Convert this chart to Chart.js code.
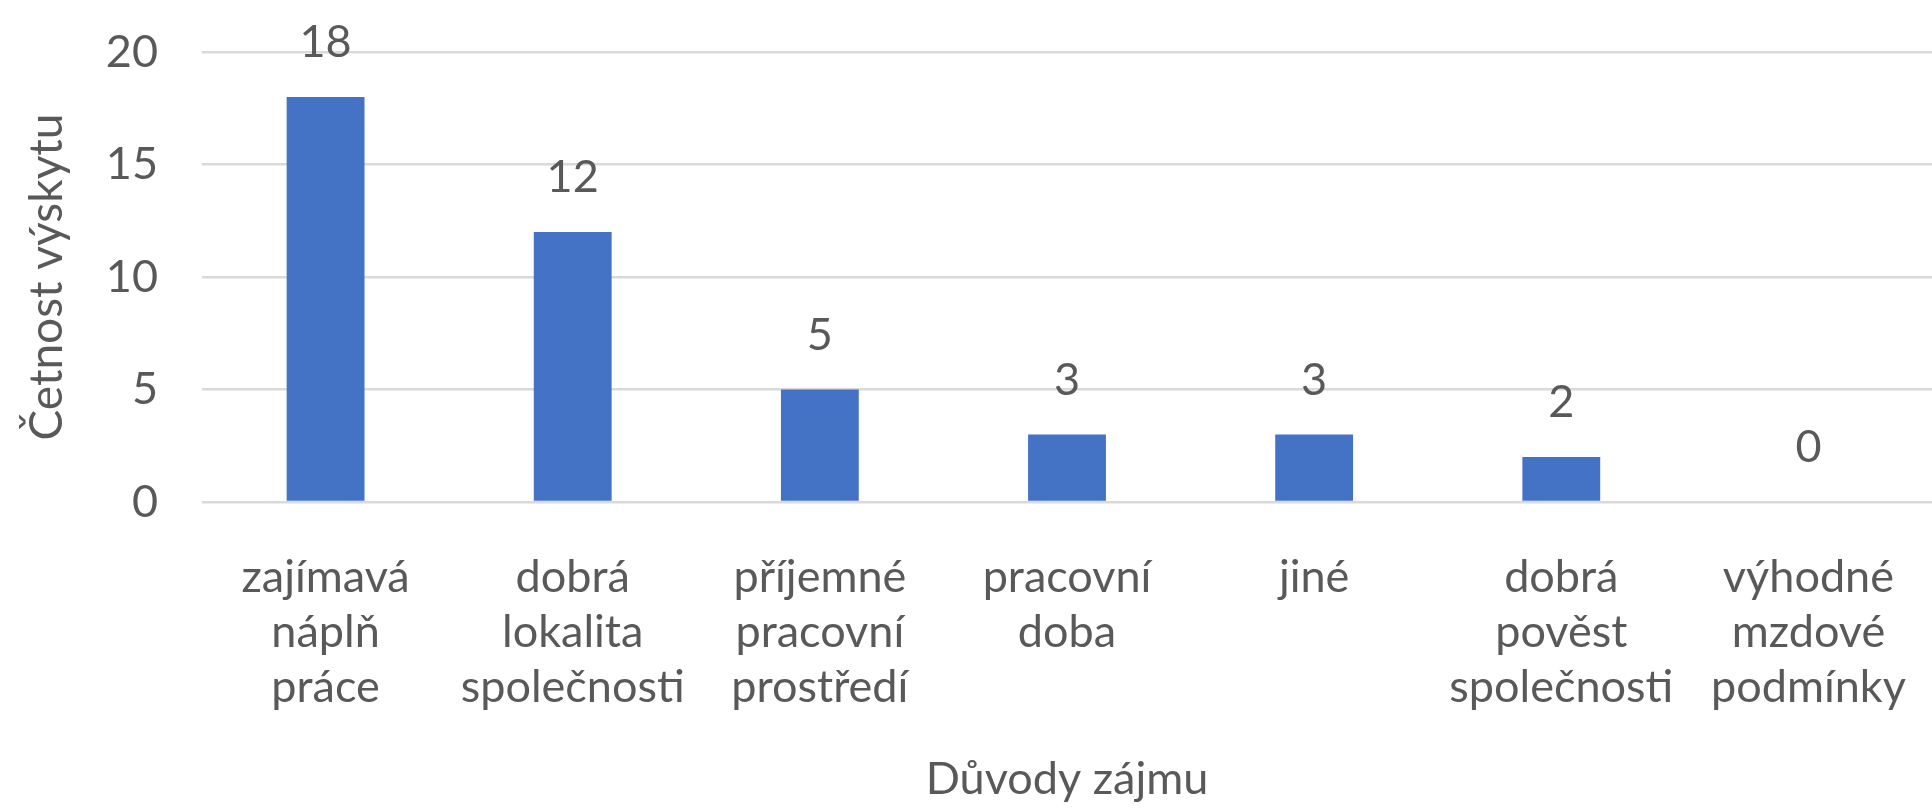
<!DOCTYPE html>
<html>
<head>
<meta charset="utf-8">
<script src="https://cdn.jsdelivr.net/npm/chart.js@4.4.0/dist/chart.umd.min.js"></script>
<style>
    html, body { margin: 0; padding: 0; background: #fff; }
    #wrap { width: 1932px; height: 808px; }
</style>
</head>
<body>
<div id="wrap"><canvas id="reasonsChart"></canvas></div>
<script>
// data
var categories = [
    ["zajímavá", "náplň", "práce"],
    ["dobrá", "lokalita", "společnosti"],
    ["příjemné", "pracovní", "prostředí"],
    ["pracovní", "doba"],
    ["jiné"],
    ["dobrá", "pověst", "společnosti"],
    ["výhodné", "mzdové", "podmínky"]
];
var counts = [18, 12, 5, 3, 3, 2, 0];
var yTicks = [0, 5, 10, 15, 20];
var yTitle = "Četnost výskytu";
var xTitle = "Důvody zájmu";

var textColor = "#595959";
var fontFamily = "Lato, 'Open Sans', sans-serif";

// value labels above bars
var valueLabels = {
    id: "valueLabels",
    afterDatasetsDraw: function (chart) {
        var ctx = chart.ctx;
        var meta = chart.getDatasetMeta(0);
        ctx.save();
        ctx.fillStyle = textColor;
        ctx.font = "45px " + fontFamily;
        ctx.textAlign = "center";
        ctx.textBaseline = "alphabetic";
        meta.data.forEach(function (bar, i) {
            ctx.fillText(String(counts[i]), bar.x, bar.y - 40);
        });
        ctx.restore();
    }
};

const ctx = document.getElementById("reasonsChart").getContext("2d");
var reasonsChart = new Chart(ctx, {
    type: "bar",
    data: {
        labels: categories,
        datasets: [
            {
                label: yTitle,
                data: counts,
                backgroundColor: "#4472C4",
                borderWidth: 0,
                categoryPercentage: 1,
                barPercentage: 0.315,
            },
        ],
    },
    options: {
        responsive: true,
        maintainAspectRatio: false,
        animation: false,
        layout: {
            padding: { top: 52, right: 0, bottom: 0, left: 0 },
        },
        plugins: {
            legend: { display: false },
            tooltip: { enabled: false },
        },
        scales: {
            x: {
                grid: { display: false },
                border: { display: false },
                ticks: {
                    color: textColor,
                    font: { family: fontFamily, size: 45, lineHeight: 1.22 },
                    padding: 40,
                    maxRotation: 0,
                    autoSkip: false,
                },
                title: {
                    display: true,
                    text: xTitle,
                    color: textColor,
                    font: { family: fontFamily, size: 45 },
                    padding: { top: 0, bottom: 2 },
                },
                afterFit: function (scale) {
                    scale.height = 306;
                    scale.paddingLeft = 0;
                    scale.paddingRight = 0;
                },
            },
            y: {
                min: 0,
                max: 20,
                afterBuildTicks: function (scale) {
                    scale.ticks = yTicks.map(function (v) { return { value: v }; });
                },
                grid: {
                    color: "#d9d9d9",
                    lineWidth: 2.5,
                    drawTicks: false,
                },
                border: { display: false },
                ticks: {
                    color: textColor,
                    font: { family: fontFamily, size: 45 },
                    padding: 44,
                },
                title: {
                    display: true,
                    text: yTitle,
                    color: textColor,
                    font: { family: fontFamily, size: 46 },
                    padding: { top: 20, bottom: 0 },
                },
                afterFit: function (scale) {
                    scale.width = 202;
                    scale.paddingTop = 0;
                    scale.paddingBottom = 0;
                },
            },
        },
    },
    plugins: [valueLabels],
});
</script>
</body>
</html>
